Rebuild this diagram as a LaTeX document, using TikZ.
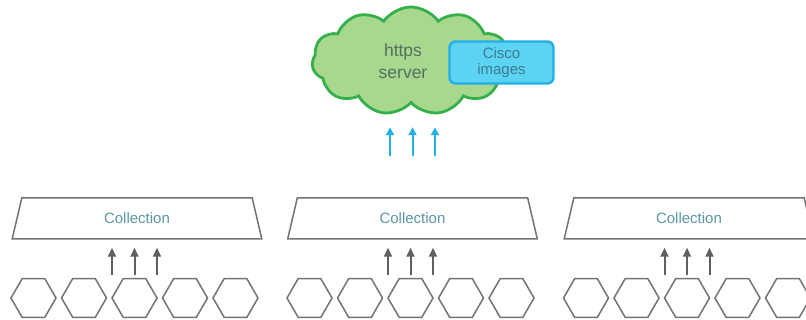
\documentclass[tikz,border=0pt]{standalone}
\usepackage{fontspec}
\setmainfont{Liberation Sans}
\usetikzlibrary{shapes.geometric,shapes.symbols,arrows.meta,calc}
\definecolor{linegray}{HTML}{737373}
\definecolor{arrowgray}{HTML}{5F5F5F}
\definecolor{cloudfill}{HTML}{A7D88E}
\definecolor{cloudline}{HTML}{35B04A}
\definecolor{boxfill}{HTML}{5CD3F2}
\definecolor{boxline}{HTML}{22AEE6}
\definecolor{labelteal}{HTML}{5B97A6}
\definecolor{clouddark}{HTML}{56705F}
\definecolor{boxtext}{HTML}{3B7D92}

\begin{document}
\begin{tikzpicture}[x=1pt,y=1pt,
  hexcell/.style={regular polygon, regular polygon sides=6, minimum size=45pt,
    inner sep=0pt, draw=linegray, line width=1.5pt},
  collector/.style={trapezium, trapezium left angle=76, trapezium right angle=76,
    trapezium stretches=true, minimum width=250pt, minimum height=41pt,
    inner sep=0pt, draw=linegray, line width=1.5pt, text=labelteal,
    font=\fontsize{15}{17}\selectfont},
  feed/.style={draw=arrowgray, line width=2pt, -{Triangle[width=8pt,length=9pt]}},
  upload/.style={draw=boxline, line width=2pt, -{Triangle[width=8pt,length=8pt]}},
  server/.style={cloud, cloud puffs=11, cloud puff arc=110, aspect=1.9,
    draw=cloudline, fill=cloudfill, line width=2.8pt,
    minimum width=198pt, minimum height=108pt, inner sep=0pt},
  imagebox/.style={rounded corners=6pt, draw=boxline, fill=boxfill, line width=2.4pt,
    minimum width=104pt, minimum height=42pt, inner sep=0pt, align=center,
    text=boxtext, font=\fontsize{15}{16.5}\selectfont},
]
\useasboundingbox (0,0) rectangle (806,320);

% https server cloud with the image store
\node[server] (cloud) at (411,259) {};
\node[align=center, text=clouddark, font=\fontsize{17.5}{22}\selectfont] (srv) at (403,259) {https\\server};
\node[imagebox] (img) at (501.5,257.5) {Cisco\\images};

% collection groups: five cells feeding one collector each
\foreach \g/\gx/\tx in {1/134.5/137, 2/410.5/412.5, 3/687/689} {
  \node[collector] (col\g) at (\tx,101.5) {Collection};
  \foreach \k in {1,...,5}
    \node[hexcell] (hex\g\k) at ({\gx+(\k-3)*50.5},22) {};
  \foreach \dx in {-22.5,0,22.5}
    \draw[feed] ([xshift=\dx pt, yshift=3pt]hex\g3.north)
      -- ([xshift=\dx pt, yshift=-8pt]hex\g3.north |- col\g.south);
}

% uploads from the middle collector up towards the server
\foreach \dx in {-22.5,0,22.5}
  \draw[upload, shorten <=41pt] ([xshift=\dx pt]col2.north)
    -- ([xshift=\dx pt, yshift=70pt]col2.north);
\end{tikzpicture}
\end{document}
